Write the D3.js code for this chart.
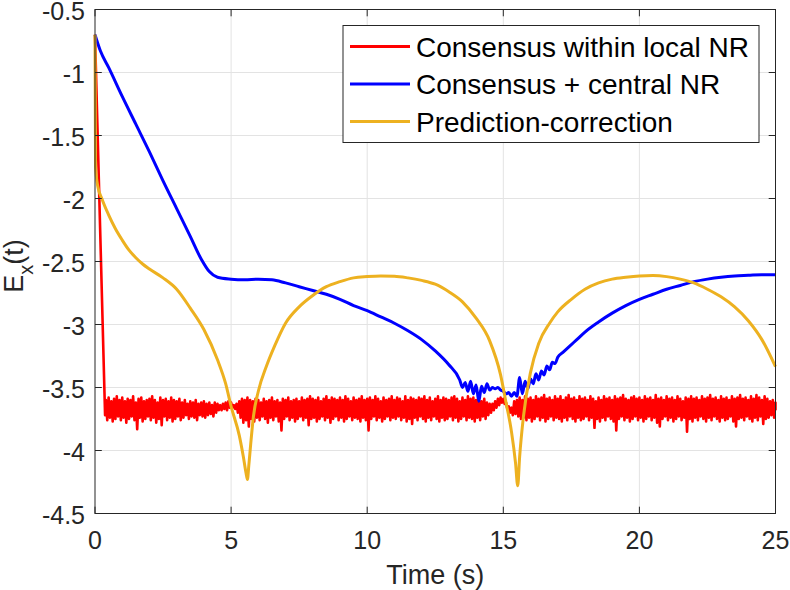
<!DOCTYPE html>
<html>
<head>
<meta charset="utf-8">
<script src="https://cdn.jsdelivr.net/npm/d3@7"></script>
<style>
  body { margin: 0; background: #fff; }
  text { font-family: "Liberation Sans", Arial, Helvetica, sans-serif; fill: #262626; }
</style>
</head>
<body>
<script>
const width = 790;
const height = 590;

// tick values
const xTicks = [0, 5, 10, 15, 20, 25];
const yTicks = [-4.5, -4, -3.5, -3, -2.5, -2, -1.5, -1, -0.5];

// series names
const seriesNames = ['Consensus within local NR', 'Consensus + central NR', 'Prediction-correction'];

// red: initial drop, then the noisy band read as top / bottom swing every 0.1 s from 0.4 s
const redHeadT = [0, 0.37];
const redHeadV = [-0.70, -3.72];
const redStart = 0.4;
const redStep = 0.1;
const redHigh = [
  -3.60, -3.58, -3.61, -3.59, -3.57, -3.60,                               // 0.4-0.9
  -3.58, -3.61, -3.59, -3.60, -3.57, -3.62, -3.59, -3.58, -3.61, -3.60,   // 1
  -3.59, -3.57, -3.60, -3.62, -3.58, -3.60, -3.59, -3.61, -3.58, -3.60,   // 2
  -3.61, -3.59, -3.62, -3.60, -3.63, -3.61, -3.62, -3.60, -3.63, -3.62,   // 3
  -3.61, -3.63, -3.62, -3.64, -3.62, -3.63, -3.64, -3.63, -3.62, -3.61,   // 4
  -3.62, -3.64, -3.63, -3.61, -3.59, -3.60, -3.58, -3.60, -3.61, -3.59,   // 5
  -3.60, -3.62, -3.59, -3.61, -3.60, -3.58, -3.61, -3.60, -3.62, -3.59,   // 6
  -3.60, -3.58, -3.61, -3.60, -3.59, -3.61, -3.58, -3.60, -3.59, -3.57,   // 7
  -3.59, -3.60, -3.58, -3.61, -3.59, -3.57, -3.60, -3.58, -3.59, -3.60,   // 8
  -3.58, -3.60, -3.57, -3.59, -3.61, -3.58, -3.60, -3.59, -3.57, -3.60,   // 9
  -3.59, -3.58, -3.60, -3.57, -3.59, -3.61, -3.58, -3.60, -3.59, -3.57,   // 10
  -3.60, -3.58, -3.59, -3.61, -3.57, -3.60, -3.58, -3.59, -3.60, -3.58,   // 11
  -3.59, -3.57, -3.60, -3.58, -3.61, -3.59, -3.57, -3.60, -3.58, -3.59,   // 12
  -3.60, -3.58, -3.57, -3.59, -3.61, -3.58, -3.60, -3.57, -3.59, -3.58,   // 13
  -3.60, -3.58, -3.61, -3.59, -3.62, -3.63, -3.63, -3.61, -3.59, -3.58,   // 14
  -3.59, -3.62, -3.65, -3.66, -3.61, -3.60, -3.58, -3.60, -3.57, -3.59,   // 15
  -3.58, -3.60, -3.57, -3.59, -3.58, -3.56, -3.59, -3.58, -3.60, -3.57,   // 16
  -3.59, -3.57, -3.60, -3.58, -3.56, -3.59, -3.58, -3.60, -3.57, -3.59,   // 17
  -3.58, -3.60, -3.57, -3.59, -3.61, -3.58, -3.60, -3.57, -3.59, -3.58,   // 18
  -3.60, -3.57, -3.59, -3.58, -3.56, -3.59, -3.60, -3.58, -3.57, -3.59,   // 19
  -3.58, -3.60, -3.57, -3.59, -3.58, -3.60, -3.56, -3.59, -3.58, -3.60,   // 20
  -3.57, -3.59, -3.58, -3.60, -3.57, -3.59, -3.61, -3.58, -3.59, -3.57,   // 21
  -3.59, -3.58, -3.60, -3.57, -3.59, -3.58, -3.56, -3.59, -3.58, -3.60,   // 22
  -3.57, -3.59, -3.58, -3.60, -3.57, -3.59, -3.58, -3.56, -3.59, -3.58,   // 23
  -3.60, -3.57, -3.59, -3.56, -3.58, -3.60, -3.57, -3.59, -3.61, -3.60,   // 24
  -3.62                                                                  // 25
];
const redLow = [
  -3.76, -3.74, -3.77, -3.75, -3.73, -3.76,                               // 0.4-0.9
  -3.74, -3.78, -3.75, -3.73, -3.76, -3.83, -3.74, -3.77, -3.75, -3.73,   // 1
  -3.76, -3.74, -3.78, -3.75, -3.80, -3.73, -3.76, -3.74, -3.77, -3.75,   // 2
  -3.73, -3.76, -3.74, -3.72, -3.75, -3.73, -3.74, -3.76, -3.72, -3.73,   // 3
  -3.74, -3.72, -3.71, -3.73, -3.70, -3.68, -3.68, -3.67, -3.68, -3.66,   // 4
  -3.66, -3.67, -3.70, -3.74, -3.78, -3.76, -3.81, -3.75, -3.77, -3.74,   // 5
  -3.76, -3.73, -3.75, -3.78, -3.74, -3.76, -3.73, -3.77, -3.84, -3.75,   // 6
  -3.73, -3.76, -3.74, -3.77, -3.75, -3.73, -3.76, -3.74, -3.80, -3.75,   // 7
  -3.74, -3.77, -3.75, -3.73, -3.76, -3.74, -3.78, -3.75, -3.73, -3.76,   // 8
  -3.74, -3.77, -3.75, -3.73, -3.76, -3.74, -3.75, -3.77, -3.74, -3.76,   // 9
  -3.84, -3.75, -3.73, -3.76, -3.74, -3.77, -3.75, -3.73, -3.76, -3.74,   // 10
  -3.75, -3.73, -3.76, -3.74, -3.77, -3.75, -3.79, -3.74, -3.76, -3.73,   // 11
  -3.75, -3.77, -3.74, -3.76, -3.73, -3.75, -3.77, -3.74, -3.76, -3.75,   // 12
  -3.73, -3.76, -3.74, -3.77, -3.75, -3.73, -3.76, -3.74, -3.75, -3.77,   // 13
  -3.74, -3.76, -3.73, -3.75, -3.72, -3.70, -3.68, -3.66, -3.64, -3.62,   // 14
  -3.63, -3.67, -3.70, -3.72, -3.71, -3.73, -3.75, -3.74, -3.76, -3.74,   // 15
  -3.77, -3.75, -3.73, -3.76, -3.74, -3.77, -3.75, -3.73, -3.76, -3.74,   // 16
  -3.75, -3.77, -3.74, -3.76, -3.73, -3.75, -3.77, -3.74, -3.76, -3.75,   // 17
  -3.73, -3.76, -3.74, -3.82, -3.75, -3.77, -3.74, -3.76, -3.73, -3.75,   // 18
  -3.77, -3.84, -3.75, -3.73, -3.76, -3.74, -3.77, -3.75, -3.73, -3.76,   // 19
  -3.74, -3.77, -3.75, -3.73, -3.76, -3.74, -3.78, -3.81, -3.75, -3.73,   // 20
  -3.76, -3.74, -3.77, -3.75, -3.73, -3.76, -3.74, -3.85, -3.75, -3.77,   // 21
  -3.74, -3.76, -3.73, -3.75, -3.77, -3.74, -3.76, -3.73, -3.75, -3.77,   // 22
  -3.74, -3.76, -3.75, -3.73, -3.77, -3.81, -3.75, -3.74, -3.76, -3.73,   // 23
  -3.75, -3.77, -3.74, -3.76, -3.73, -3.79, -3.75, -3.74, -3.72, -3.74,   // 24
  -3.68                                                                  // 25
];

// blue: consensus + central NR
const blueT = [0, 0.2, 0.5, 1, 1.5, 2, 2.5, 3, 3.5, 3.9, 4.2, 4.5, 5, 5.5, 6, 6.5, 7, 7.5, 8, 8.5,
  9, 9.5, 10, 10.5, 11, 11.5, 12, 12.5, 13, 13.4, 13.5, 13.6, 13.7, 13.8, 13.9, 14, 14.1, 14.2, 14.3,
  14.4, 14.5, 14.6, 14.7, 14.8, 14.9, 15, 15.1, 15.2, 15.3, 15.4, 15.5, 15.6, 15.7, 15.8, 15.9, 16,
  16.1, 16.2, 16.3, 16.4, 16.5, 16.6, 16.7, 16.8, 16.9, 17, 17.2, 17.4, 17.7, 18, 18.5, 19, 19.5, 20,
  20.5, 21, 21.5, 22, 22.5, 23, 23.5, 24, 24.5, 25];
const blueV = [-0.70, -0.83, -0.96, -1.19, -1.41, -1.63, -1.86, -2.08, -2.30, -2.48, -2.58, -2.625,
  -2.64, -2.645, -2.64, -2.645, -2.67, -2.70, -2.73, -2.76, -2.80, -2.85, -2.89, -2.94, -2.99, -3.05,
  -3.12, -3.21, -3.32, -3.44, -3.50, -3.46, -3.53, -3.45, -3.55, -3.48, -3.61, -3.49, -3.54, -3.47,
  -3.52, -3.50, -3.51, -3.50, -3.52, -3.53, -3.55, -3.54, -3.57, -3.54, -3.57, -3.42, -3.55, -3.45,
  -3.51, -3.43, -3.47, -3.39, -3.44, -3.37, -3.40, -3.33, -3.36, -3.30, -3.31, -3.26, -3.22, -3.18,
  -3.12, -3.06, -2.98, -2.91, -2.85, -2.80, -2.76, -2.72, -2.69, -2.66, -2.64, -2.625, -2.615, -2.61,
  -2.605, -2.605];

// yellow: prediction-correction
const yellowT = [0, 0.01, 0.02, 0.1, 0.25, 0.5, 0.75, 1, 1.25, 1.5, 1.75, 2, 2.5, 3, 3.5, 4, 4.5, 4.8,
  5, 5.3, 5.45, 5.55, 5.6, 5.65, 5.72, 5.82, 6, 6.3, 6.6, 7, 7.5, 8, 8.5, 9, 9.5, 10, 10.5, 11, 11.5,
  12, 12.5, 13, 13.5, 14, 14.5, 14.9, 15.1, 15.3, 15.45, 15.53, 15.6, 15.74, 16, 16.3, 16.7, 17, 17.5,
  18, 18.5, 19, 19.5, 20, 20.5, 21, 21.5, 22, 22.5, 23, 23.5, 24, 24.5, 25];
const yellowV = [-0.70, -1.20, -1.75, -1.90, -2.00, -2.13, -2.24, -2.33, -2.41, -2.47, -2.52, -2.56,
  -2.63, -2.72, -2.87, -3.04, -3.28, -3.47, -3.65, -3.88, -4.05, -4.18, -4.23, -4.12, -3.95, -3.73,
  -3.53, -3.33, -3.17, -2.99, -2.86, -2.77, -2.70, -2.66, -2.63, -2.62, -2.615, -2.617, -2.63, -2.65,
  -2.68, -2.74, -2.82, -2.95, -3.13, -3.40, -3.62, -3.85, -4.10, -4.28, -4.05, -3.73, -3.38, -3.15,
  -2.99, -2.90, -2.80, -2.72, -2.67, -2.64, -2.625, -2.615, -2.612, -2.62, -2.64, -2.67, -2.72,
  -2.78, -2.86, -2.97, -3.12, -3.335];

const colors = ['#ff0000', '#0000ff', '#edb120'];

const margin = { top: 9.5, right: 14.5, bottom: 76.5, left: 95 };
const x = d3.scaleLinear().domain([0, 25]).range([margin.left, width - margin.right]);
const y = d3.scaleLinear().domain([-4.5, -0.5]).range([height - margin.bottom, margin.top]);

const svg = d3.create('svg')
  .attr('width', width)
  .attr('height', height)
  .style('background-color', '#fff');
document.body.appendChild(svg.node());

const x0 = x.range()[0], x1 = x.range()[1];
const y0 = y.range()[0], y1 = y.range()[1];

// grid
svg.append('g')
  .selectAll('line')
  .data(xTicks.slice(1, -1))
  .join('line')
  .attr('x1', d => x(d)).attr('x2', d => x(d))
  .attr('y1', y1).attr('y2', y0)
  .attr('stroke', '#e3e3e3').attr('stroke-width', 1);
svg.append('g')
  .selectAll('line')
  .data(yTicks.slice(1, -1))
  .join('line')
  .attr('x1', x0).attr('x2', x1)
  .attr('y1', d => y(d)).attr('y2', d => y(d))
  .attr('stroke', '#e3e3e3').attr('stroke-width', 1);

const plot = svg.append('g');

const line = d3.line().x(d => x(d[0])).y(d => y(d[1]));
const smooth = d3.line().x(d => x(d[0])).y(d => y(d[1])).curve(d3.curveMonotoneX);

// the noisy band swings top -> bottom inside each 0.1 s sample
const redData = redHeadT.map((t, i) => [t, redHeadV[i]]);
redHigh.forEach((v, i) => {
  const t = redStart + i * redStep;
  redData.push([t, v]);
  if (i < redHigh.length - 1) redData.push([t + redStep / 2, redLow[i]]);
  else redData.push([t, redLow[i]]);
});
const blueData = blueT.map((t, i) => [t, blueV[i]]);
const yellowData = yellowT.map((t, i) => [t, yellowV[i]]);

plot.append('path').datum(redData)
  .attr('d', line).attr('fill', 'none')
  .attr('stroke', colors[0]).attr('stroke-width', 2.6).attr('stroke-linejoin', 'round');
plot.append('path').datum(blueData)
  .attr('d', smooth).attr('fill', 'none')
  .attr('stroke', colors[1]).attr('stroke-width', 3).attr('stroke-linejoin', 'round');
plot.append('path').datum(yellowData)
  .attr('d', smooth).attr('fill', 'none')
  .attr('stroke', colors[2]).attr('stroke-width', 3).attr('stroke-linejoin', 'round');

// axes box and inward ticks
const tickLen = 6.8;
const axes = svg.append('g').attr('stroke', '#262626').attr('stroke-width', 1).attr('fill', 'none');
axes.append('rect').attr('x', x0).attr('y', y1).attr('width', x1 - x0).attr('height', y0 - y1);
xTicks.forEach(t => {
  axes.append('line').attr('x1', x(t)).attr('x2', x(t)).attr('y1', y0).attr('y2', y0 - tickLen);
  axes.append('line').attr('x1', x(t)).attr('x2', x(t)).attr('y1', y1).attr('y2', y1 + tickLen);
});
yTicks.forEach(t => {
  axes.append('line').attr('x1', x0).attr('x2', x0 + tickLen).attr('y1', y(t)).attr('y2', y(t));
  axes.append('line').attr('x1', x1).attr('x2', x1 - tickLen).attr('y1', y(t)).attr('y2', y(t));
});

// tick labels
svg.append('g').selectAll('text')
  .data(xTicks).join('text')
  .attr('x', d => x(d)).attr('y', y0 + 35)
  .attr('text-anchor', 'middle').attr('font-size', 25)
  .text(d => d);
svg.append('g').selectAll('text')
  .data(yTicks).join('text')
  .attr('x', x0 - 10).attr('y', d => y(d) + 10)
  .attr('text-anchor', 'end').attr('font-size', 25)
  .text(d => d);

// axis labels
svg.append('text')
  .attr('x', (x0 + x1) / 2).attr('y', 584)
  .attr('text-anchor', 'middle').attr('font-size', 27)
  .text('Time (s)');

const ylab = svg.append('text')
  .attr('transform', 'translate(23,266) rotate(-90)')
  .attr('text-anchor', 'middle').attr('font-size', 27);
ylab.append('tspan').text('E');
ylab.append('tspan').attr('font-size', 20).attr('dy', 10).text('x');
ylab.append('tspan').attr('dy', -10).text('(t)');

// legend
const legend = svg.append('g');
legend.append('rect')
  .attr('x', 343).attr('y', 25.5).attr('width', 416).attr('height', 117)
  .attr('fill', '#fff').attr('stroke', '#262626').attr('stroke-width', 1);
seriesNames.forEach((name, i) => {
  const cy = 46.5 + i * 37.5;
  legend.append('line')
    .attr('x1', 350).attr('x2', 410).attr('y1', cy).attr('y2', cy)
    .attr('stroke', colors[i]).attr('stroke-width', 3);
  legend.append('text')
    .attr('x', 416).attr('y', cy + 10)
    .attr('font-size', 28).style('fill', '#000')
    .text(name);
});
</script>
</body>
</html>
